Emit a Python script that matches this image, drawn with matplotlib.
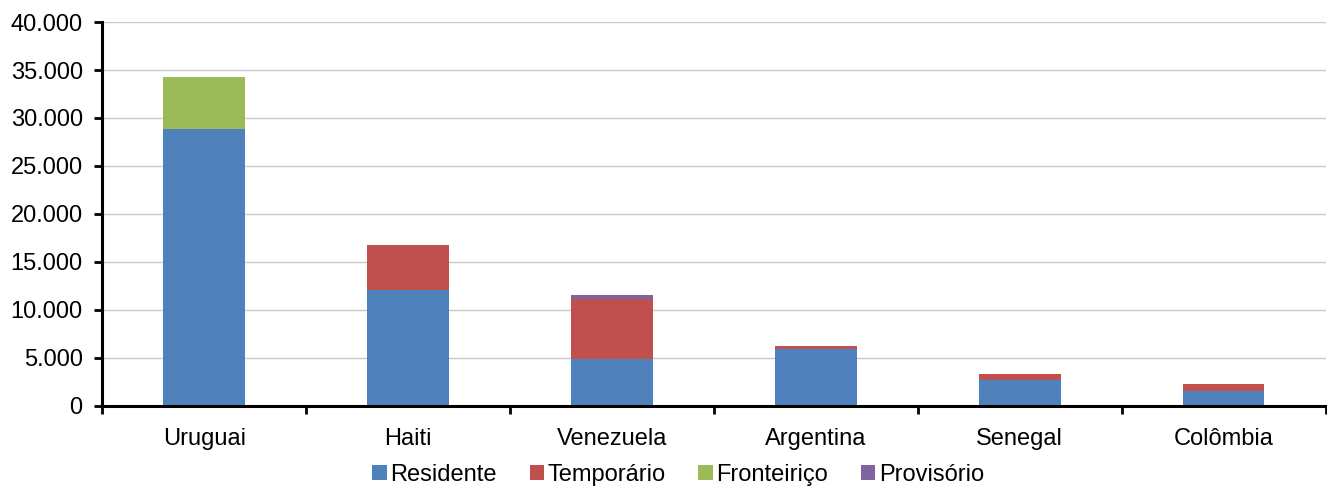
import numpy as np
import matplotlib.pyplot as plt
from matplotlib.ticker import FuncFormatter, MultipleLocator

plt.rcParams['font.family'] = ['Liberation Sans', 'DejaVu Sans']

paises = ["Uruguai", "Haiti", "Venezuela", "Argentina", "Senegal", "Colômbia"]
residente = [28850, 12100, 4870, 5950, 2700, 1540]
temporario = [0, 4670, 6250, 280, 560, 700]
fronteirico = [5420, 0, 0, 0, 0, 0]
provisorio = [0, 0, 450, 30, 0, 0]

series = [
    ("Residente", residente, "#4F81BD"),
    ("Temporário", temporario, "#C0504D"),
    ("Fronteiriço", fronteirico, "#9BBB59"),
    ("Provisório", provisorio, "#8064A2"),
]

fs = 17
fig = plt.figure(figsize=(13.27, 4.9), dpi=100)
ax = fig.add_axes([0.077, 0.172, 0.922, 0.783])

x = np.arange(len(paises))
base = np.zeros(len(paises))
for nome, vals, cor in series:
    ax.bar(x, vals, width=0.4, bottom=base, color=cor, label=nome, zorder=3)
    base += np.array(vals)

ax.set_xlim(-0.5, len(paises) - 0.5)
ax.set_ylim(0, 40000)
ax.yaxis.set_major_locator(MultipleLocator(5000))
ax.yaxis.set_major_formatter(FuncFormatter(lambda v, p: f"{int(v):,}".replace(",", ".")))
ax.grid(axis="y", color="#c8c8c8", linewidth=1, zorder=0)

ax.set_xticks(x)
ax.set_xticklabels(paises)
ax.set_xticks(np.arange(-0.5, len(paises)), minor=True)
ax.tick_params(axis="x", which="major", length=0, pad=16, labelsize=fs)
ax.tick_params(axis="x", which="minor", length=6, width=2, direction="out")
ax.tick_params(axis="y", length=6, width=2, direction="out", labelsize=fs, pad=8)

for s in ["top", "right"]:
    ax.spines[s].set_visible(False)
for s in ["left", "bottom"]:
    ax.spines[s].set_linewidth(2.2)
    ax.spines[s].set_zorder(4)

handles, labels = ax.get_legend_handles_labels()
fig.legend(handles, labels, loc="center", bbox_to_anchor=(0.511, 0.03), ncol=4,
           frameon=False, fontsize=fs, handlelength=0.6, handleheight=0.6,
           handletextpad=0.15, columnspacing=1.4)

fig.savefig("out.png", dpi=100)
